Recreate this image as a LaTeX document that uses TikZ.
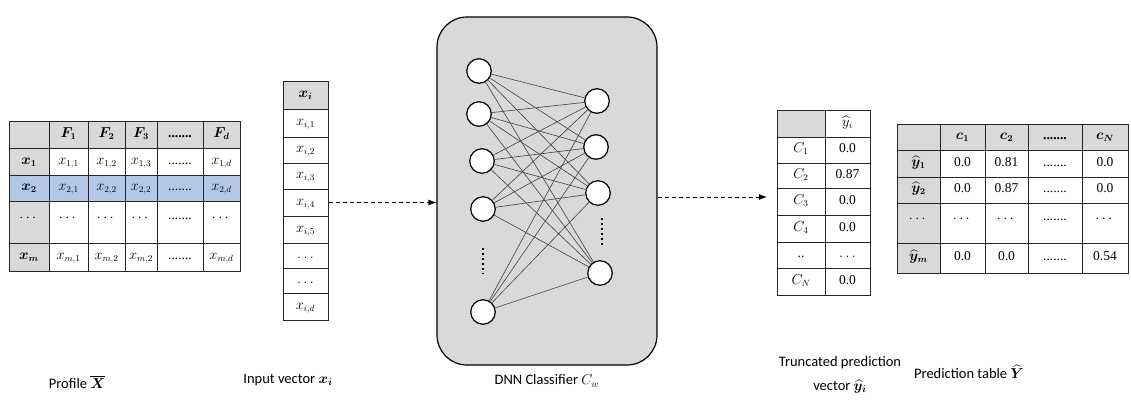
\documentclass[tikz,border=0pt]{standalone}
\usepackage{amsmath}
\usepackage{bm}
\usepackage{fontspec}
\setmainfont{Carlito}
\newfontfamily\tnr{Liberation Serif}
\usetikzlibrary{arrows.meta}
\definecolor{hdrgray}{HTML}{D9D9D9}
\definecolor{rowblue}{HTML}{B4C7E7}
\definecolor{boxgray}{HTML}{D9D9D9}
\newcommand\tcell[7]{\node[cellbox,#6,minimum width={(#4)-(#2)},minimum height={(#5)-(#3)}] (#1) at ({((#2)+(#4))/2},{((#3)+(#5))/2}) {#7};}
\begin{document}
\begin{tikzpicture}[x=1pt,y=-1pt,
  cellbox/.style={draw=black!85, line width=1pt, inner sep=0pt, fill=white, text height=9pt, text depth=3.5pt, font=\fontsize{13.5}{16}\selectfont},
  hdr/.style={fill=hdrgray},
  sel/.style={fill=rowblue},
  upc/.style={text height=0pt, text depth=2pt},
  upl/.style={text height=0pt, text depth=6pt},
  neuron/.style={circle, draw=black, line width=1.2pt, fill=white, minimum size=24.5pt, inner sep=0pt},
  synapse/.style={draw=black!75, line width=0.6pt},
  neurodots/.style={line width=2.2pt, dash pattern=on 2.2pt off 2.8pt},
  flow/.style={line width=1pt, dash pattern=on 4pt off 3pt, -{Latex[length=8pt,width=6pt]}},
  caption/.style={font=\fontsize{14.5}{24}\selectfont, align=center}]
\useasboundingbox[fill=white] (0,0) rectangle (1131,410);

% ---------- Profile table ----------
\tcell{p00}{9}{121}{49}{148}{hdr}{}
\tcell{p01}{49}{121}{88}{148}{hdr}{$\bm{F_1}$}
\tcell{p02}{88}{121}{125}{148}{hdr}{$\bm{F_2}$}
\tcell{p03}{125}{121}{157}{148}{hdr}{$\bm{F_3}$}
\tcell{p04}{157}{121}{203}{148}{hdr}{\tnr\bfseries .......}
\tcell{p05}{203}{121}{240}{148}{hdr}{$\bm{F_d}$}
\tcell{p10}{9}{148}{49}{175}{hdr}{$\bm{x_1}$}
\tcell{p11}{49}{148}{88}{175}{}{$x_{1,1}$}
\tcell{p12}{88}{148}{125}{175}{}{$x_{1,2}$}
\tcell{p13}{125}{148}{157}{175}{}{$x_{1,3}$}
\tcell{p14}{157}{148}{203}{175}{}{\tnr .......}
\tcell{p15}{203}{148}{240}{175}{}{$x_{1,d}$}
\tcell{p20}{9}{175}{49}{201}{sel}{$\bm{x_2}$}
\tcell{p21}{49}{175}{88}{201}{sel}{$x_{2,1}$}
\tcell{p22}{88}{175}{125}{201}{sel}{$x_{2,2}$}
\tcell{p23}{125}{175}{157}{201}{sel}{$x_{2,2}$}
\tcell{p24}{157}{175}{203}{201}{sel}{\tnr .......}
\tcell{p25}{203}{175}{240}{201}{sel}{$x_{2,d}$}
\tcell{p30}{9}{201}{49}{243}{hdr,upc}{$\cdots$}
\tcell{p31}{49}{201}{88}{243}{upc}{$\cdots$}
\tcell{p32}{88}{201}{125}{243}{upc}{$\cdots$}
\tcell{p33}{125}{201}{157}{243}{upc}{$\cdots$}
\tcell{p34}{157}{201}{203}{243}{upl}{\tnr .......}
\tcell{p35}{203}{201}{240}{243}{upc}{$\cdots$}
\tcell{p40}{9}{243}{49}{271}{hdr}{$\bm{x_m}$}
\tcell{p41}{49}{243}{88}{271}{}{$x_{m,1}$}
\tcell{p42}{88}{243}{125}{271}{}{$x_{m,2}$}
\tcell{p43}{125}{243}{157}{271}{}{$x_{m,2}$}
\tcell{p44}{157}{243}{203}{271}{}{\tnr .......}
\tcell{p45}{203}{243}{240}{271}{}{$x_{m,d}$}

% ---------- Input vector ----------
\tcell{v0}{283}{81}{328}{109}{hdr}{$\bm{x_i}$}
\tcell{v1}{283}{109}{328}{137}{}{$x_{i,1}$}
\tcell{v2}{283}{137}{328}{163}{}{$x_{i,2}$}
\tcell{v3}{283}{163}{328}{189}{}{$x_{i,3}$}
\tcell{v4}{283}{189}{328}{216}{}{$x_{i,4}$}
\tcell{v5}{283}{216}{328}{243}{}{$x_{i,5}$}
\tcell{v6}{283}{243}{328}{268}{}{$\ldots$}
\tcell{v7}{283}{268}{328}{293}{}{$\ldots$}
\tcell{v8}{283}{293}{328}{320}{}{$x_{i,d}$}

% ---------- DNN classifier ----------
\node[draw=black, line width=1.2pt, fill=boxgray, rounded corners=30pt, minimum width=220pt, minimum height=348pt] (dnn) at (547,191) {};
\node[neuron] (l1) at (479,71) {};
\node[neuron] (l2) at (479,114) {};
\node[neuron] (l3) at (482,161) {};
\node[neuron] (l4) at (483,209) {};
\node[neuron] (l5) at (483,312) {};
\node[neuron] (r1) at (597,101) {};
\node[neuron] (r2) at (596,147) {};
\node[neuron] (r3) at (598,193) {};
\node[neuron] (r4) at (600,273) {};
\foreach \a in {1,...,5}{\foreach \b in {1,...,4}{\draw[synapse] (l\a) -- (r\b);}}
\coordinate (ld1) at (483,248);
\coordinate (ld2) at (483,274);
\coordinate (rd1) at (602,218);
\coordinate (rd2) at (602,245);
\draw[neurodots] (ld1) -- (ld2);
\draw[neurodots] (rd1) -- (rd2);

% ---------- Truncated prediction vector ----------
\tcell{t00}{777}{110}{825}{137}{hdr}{}
\tcell{t01}{825}{110}{870}{137}{}{$\widehat{y}_i$}
\tcell{t10}{777}{137}{825}{163}{}{$C_1$}
\tcell{t11}{825}{137}{870}{163}{}{\tnr 0.0}
\tcell{t20}{777}{163}{825}{188}{}{$C_2$}
\tcell{t21}{825}{163}{870}{188}{}{\tnr 0.87}
\tcell{t30}{777}{188}{825}{215}{}{$C_3$}
\tcell{t31}{825}{188}{870}{215}{}{\tnr 0.0}
\tcell{t40}{777}{215}{825}{242}{}{$C_4$}
\tcell{t41}{825}{215}{870}{242}{}{\tnr 0.0}
\tcell{t50}{777}{242}{825}{268}{}{\tnr ..}
\tcell{t51}{825}{242}{870}{268}{}{$\ldots$}
\tcell{t60}{777}{268}{825}{295}{}{$C_N$}
\tcell{t61}{825}{268}{870}{295}{}{\tnr 0.0}

% ---------- Prediction table ----------
\tcell{y00}{897}{124}{940}{150}{hdr}{}
\tcell{y01}{940}{124}{985}{150}{hdr}{$\bm{c_1}$}
\tcell{y02}{985}{124}{1028}{150}{hdr}{$\bm{c_2}$}
\tcell{y03}{1028}{124}{1082}{150}{hdr}{\tnr\bfseries .......}
\tcell{y04}{1082}{124}{1128}{150}{hdr}{$\bm{c_N}$}
\tcell{y10}{897}{150}{940}{177}{hdr}{$\bm{\widehat{y}_1}$}
\tcell{y11}{940}{150}{985}{177}{}{\tnr 0.0}
\tcell{y12}{985}{150}{1028}{177}{}{\tnr 0.81}
\tcell{y13}{1028}{150}{1082}{177}{}{\tnr .......}
\tcell{y14}{1082}{150}{1128}{177}{}{\tnr 0.0}
\tcell{y20}{897}{177}{940}{203}{hdr}{$\bm{\widehat{y}_2}$}
\tcell{y21}{940}{177}{985}{203}{}{\tnr 0.0}
\tcell{y22}{985}{177}{1028}{203}{}{\tnr 0.87}
\tcell{y23}{1028}{177}{1082}{203}{}{\tnr .......}
\tcell{y24}{1082}{177}{1128}{203}{}{\tnr 0.0}
\tcell{y30}{897}{203}{940}{243}{hdr,upc}{$\cdots$}
\tcell{y31}{940}{203}{985}{243}{upc}{$\cdots$}
\tcell{y32}{985}{203}{1028}{243}{upc}{$\cdots$}
\tcell{y33}{1028}{203}{1082}{243}{upl}{\tnr .......}
\tcell{y34}{1082}{203}{1128}{243}{upc}{$\cdots$}
\tcell{y40}{897}{243}{940}{273}{hdr}{$\bm{\widehat{y}_m}$}
\tcell{y41}{940}{243}{985}{273}{}{\tnr 0.0}
\tcell{y42}{985}{243}{1028}{273}{}{\tnr 0.0}
\tcell{y43}{1028}{243}{1082}{273}{}{\tnr .......}
\tcell{y44}{1082}{243}{1128}{273}{}{\tnr 0.54}

% ---------- Connectors ----------
\draw[flow] (v4.east) -- (v4.east -| dnn.west);
\coordinate (tin) at (767,197);
\draw[flow] (tin -| dnn.east) -- (tin);

% ---------- Captions ----------
\node[caption] (capP) at (77,382) {Profile $\overline{\bm{X}}$};
\node[caption] (capI) at (288,380) {Input vector $\bm{x_i}$};
\node[caption] (capD) at (547,381) {DNN Classifier $C_w$};
\node[caption] (capT) at (840,375) {Truncated prediction\\vector $\widehat{\bm{y}}_{\bm{i}}$};
\node[caption] (capY) at (969,372) {Prediction table $\widehat{\bm{Y}}$};
\end{tikzpicture}
\end{document}
